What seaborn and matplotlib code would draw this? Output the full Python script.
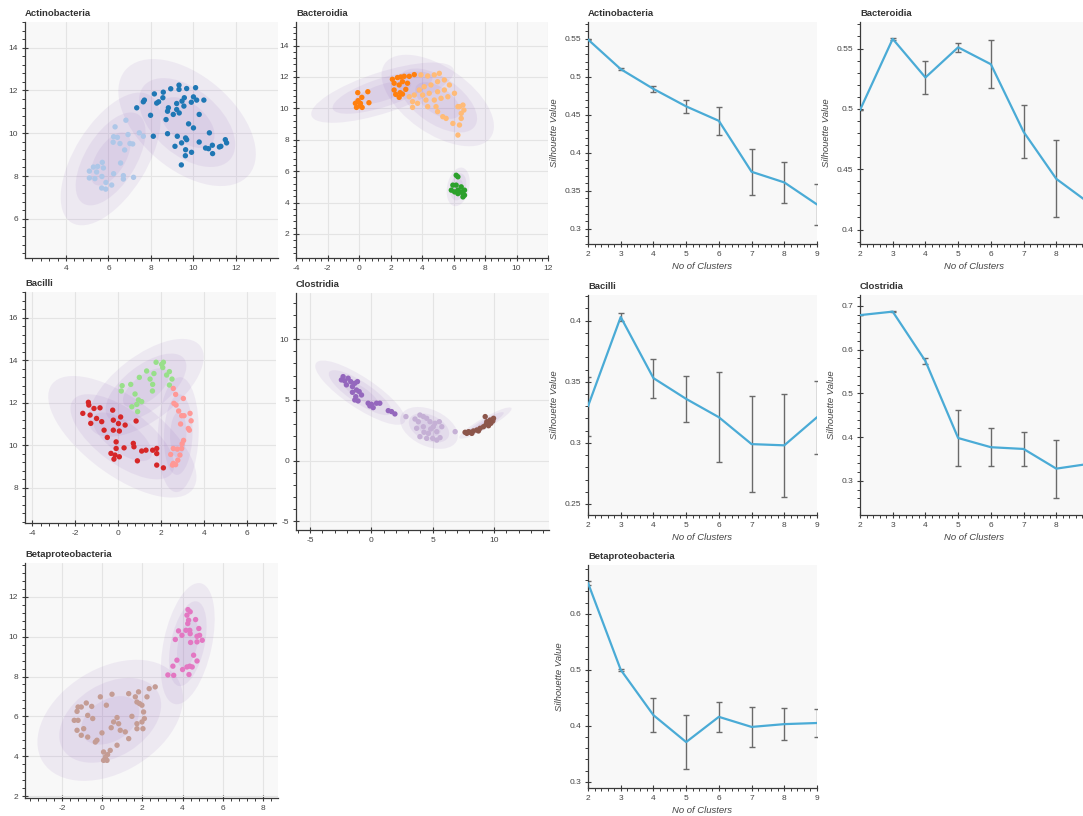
import numpy as np
import pandas as pd
import matplotlib
matplotlib.use("Agg")
import matplotlib.pyplot as plt
from matplotlib.patches import Ellipse
from matplotlib.ticker import MultipleLocator, AutoMinorLocator, FuncFormatter
import seaborn as sns

sns.set_theme(style="white")
plt.rcParams["font.family"] = ["Liberation Sans", "DejaVu Sans"]
plt.rcParams["axes.unicode_minus"] = False

# ---------------------------------------------------------------- cluster scatter data
actino_a_x = [7.33, 7.64, 7.69, 8.16, 8.58, 8.93, 9.32, 9.32, 9.68, 10.10, 7.98, 8.27, 8.36, 8.56,
              8.78, 9.05, 9.21, 9.21, 9.46, 9.57, 9.55, 9.90, 10.0, 10.15, 10.49, 10.27, 9.77, 10.0,
              8.71, 8.11, 8.78, 9.24, 9.44, 9.63, 9.68, 9.13, 9.91, 9.63, 9.62, 9.43, 10.27, 10.75,
              10.57, 10.71, 10.89, 11.22, 11.29, 10.90, 11.50, 11.56, 9.33, 8.82]
actino_a_y = [11.19, 11.47, 11.55, 11.84, 11.92, 12.08, 12.25, 12.05, 12.09, 12.13, 10.84, 11.41, 11.47, 11.66,
              11.03, 10.88, 11.11, 11.39, 11.50, 11.66, 11.27, 11.45, 11.70, 11.55, 11.55, 10.88, 10.44, 10.25,
              10.64, 9.86, 9.98, 9.86, 9.55, 9.78, 9.70, 9.39, 9.11, 9.23, 8.95, 8.52, 9.59, 10.02,
              9.31, 9.28, 9.44, 9.36, 9.39, 9.05, 9.70, 9.55, 10.95, 11.19]
actino_b_x = [6.31, 6.42, 6.24, 6.54, 6.22, 6.82, 6.92, 7.01, 7.14, 6.76, 7.45, 7.64, 6.57, 6.24, 6.70,
              6.70, 7.18, 6.15, 5.88, 5.68, 5.87, 5.69, 5.76, 5.71, 5.44, 5.29, 5.10, 5.10, 5.36, 5.49]
actino_b_y = [10.30, 9.81, 9.84, 9.52, 9.58, 10.61, 9.94, 9.52, 9.50, 9.22, 10.02, 9.86, 8.61, 8.11, 8.02,
              7.86, 7.94, 7.58, 7.70, 7.44, 7.39, 7.98, 8.38, 8.64, 8.19, 8.42, 8.23, 7.91, 7.88, 8.45]

bactero_a_x = [-0.08, 0.18, 0.56, -0.06, -0.23, 0.09, -0.16, 0.09, 0.20, 0.63, 2.12, 2.44, 2.65, 2.87,
               3.19, 3.51, 2.23, 2.55, 2.76, 3.08, 2.23, 2.33, 2.61, 2.97, 2.55, 2.76]
bactero_a_y = [11.0, 10.70, 11.06, 10.49, 10.32, 10.32, 10.06, 10.15, 10.06, 10.36, 11.85, 11.96, 12.0, 12.04,
               12.04, 12.15, 11.60, 11.49, 11.70, 11.60, 11.17, 10.89, 11.0, 11.21, 10.70, 10.91]
bactero_b_x = [3.93, 4.36, 4.78, 5.10, 5.42, 5.74, 4.99, 4.57, 4.14, 3.83, 3.51, 3.19, 4.04, 4.46, 4.99,
               5.42, 6.06, 3.40, 3.72, 4.25, 4.78, 5.21, 4.36, 4.89, 3.40, 4.99, 5.32, 5.53, 5.96, 6.38,
               6.28, 6.38, 6.60, 6.66, 6.49, 6.28, 6.49, 5.64]
bactero_b_y = [12.13, 12.06, 12.13, 12.23, 11.81, 11.49, 11.70, 11.49, 11.38, 11.17, 10.85, 10.74, 10.85, 10.96, 11.06,
               11.17, 10.96, 10.43, 10.32, 10.53, 10.53, 10.64, 10.11, 10.11, 10.06, 9.79, 9.47, 9.36, 9.04, 8.94,
               8.30, 10.11, 10.21, 9.89, 9.68, 10.11, 9.36, 10.74]
bactero_c_x = [6.17, 6.28, 5.96, 6.17, 5.86, 6.07, 6.28, 6.49, 6.60, 6.70, 6.49, 6.28, 6.70, 6.60]
bactero_c_y = [5.74, 5.64, 5.11, 5.11, 4.79, 4.68, 4.79, 5.0, 4.57, 4.47, 4.68, 4.57, 4.79, 4.36]

bacilli_a_x = [-1.64, -1.38, -1.36, -1.30, -1.27, -1.12, -1.0, -0.84, -0.76, -0.65, -0.50, -0.25, -0.22, -0.22,
               -0.09, 0.02, 0.06, 0.12, 0.33, -0.09, -0.14, -0.33, -0.19, 0.06, 0.28, 0.71, 0.74, 0.84,
               0.90, 1.10, 1.30, 1.61, 1.80, 1.80, 1.80, 2.11]
bacilli_a_y = [11.50, 12.02, 11.89, 11.42, 11.03, 11.73, 11.26, 11.76, 11.11, 10.71, 10.37, 11.65, 11.18, 10.71,
               10.16, 11.02, 10.67, 11.33, 10.95, 9.85, 9.54, 9.62, 9.35, 9.46, 9.88, 10.09, 9.93, 11.14,
               9.27, 9.73, 9.77, 9.77, 9.85, 9.61, 9.07, 8.94]
bacilli_b_x = [0.19, 0.15, 0.59, 0.79, 0.99, 0.95, 0.87, 0.64, 0.91, 1.10, 1.33, 1.49, 1.61, 1.67, 1.60,
               1.77, 2.03, 2.11, 2.08, 2.26, 2.39, 2.51, 2.39]
bacilli_b_y = [12.80, 12.55, 12.86, 12.41, 13.19, 12.13, 11.92, 11.81, 11.58, 12.05, 13.49, 13.11, 12.86, 13.37, 12.55,
               13.90, 13.80, 13.90, 13.65, 13.30, 13.46, 13.11, 12.83]
bacilli_c_x = [2.57, 2.68, 2.60, 2.70, 3.04, 2.82, 2.96, 3.07, 3.35, 3.40, 3.27, 3.32, 2.91, 3.05, 2.57,
               2.76, 2.96, 2.45, 2.88, 2.57, 2.68, 2.53, 2.78, 2.98]
bacilli_c_y = [12.67, 12.39, 11.97, 11.89, 12.20, 11.61, 11.39, 11.39, 11.50, 11.15, 10.79, 10.71, 11.0, 10.23, 9.85,
               9.82, 9.85, 9.57, 9.54, 9.15, 9.09, 9.07, 9.30, 10.07]

clost_a_x = [-2.30, -2.44, -2.17, -1.89, -1.68, -2.03, -1.54, -1.35, -1.13, -1.21, -0.99, -0.80, -1.54, -1.35,
             -1.08, -1.27, -0.26, -0.12, 0.01, 0.15, 0.42, 0.69, 1.38, 1.65, 1.92]
clost_a_y = [6.92, 6.65, 6.57, 6.79, 6.51, 6.24, 6.10, 6.37, 6.51, 5.82, 5.69, 5.41, 5.63, 5.0,
             4.92, 5.27, 4.73, 4.51, 4.64, 4.37, 4.73, 4.73, 4.12, 4.04, 3.85]
clost_b_x = [2.82, 3.56, 3.96, 4.24, 4.51, 4.78, 5.19, 5.54, 5.74, 5.33, 4.84, 4.24, 3.83, 3.96, 4.51,
             5.0, 5.33, 5.60, 4.65, 4.29, 5.05, 6.83, 3.69]
clost_b_y = [3.63, 3.43, 3.76, 3.63, 3.49, 3.21, 3.08, 3.21, 2.80, 2.39, 2.61, 2.80, 3.21, 1.98, 1.84,
             1.84, 1.70, 1.90, 2.25, 2.34, 2.80, 2.39, 2.67]
clost_c_x = [7.64, 7.78, 8.05, 8.32, 8.60, 8.87, 9.14, 9.36, 9.41, 9.55, 9.74, 9.90, 9.96, 9.28, 8.19,
             8.73, 7.92, 9.69]
clost_c_y = [2.34, 2.25, 2.34, 2.45, 2.53, 2.67, 2.80, 3.0, 3.21, 2.88, 3.08, 3.27, 3.49, 3.63, 2.25,
             2.45, 2.39, 3.35]

beta_a_x = [-1.39, -1.20, -1.20, -1.25, -1.04, -0.79, -0.52, -0.72, -0.47, -0.92, -1.25, -1.04, -0.72, -0.34,
            -0.26, -0.09, -0.01, 0.21, 0.49, 0.07, 0.16, 0.07, 0.24, 0.27, 0.40, 0.45, 0.57, 0.74, 0.82,
            0.90, 0.74, 1.15, 1.32, 1.32, 1.48, 1.65, 1.73, 1.81, 1.86, 1.98, 1.73, 1.98, 2.06, 2.10, 2.03,
            1.73, 2.23, 2.34, 2.64]
beta_a_y = [5.80, 5.80, 6.47, 6.25, 6.47, 6.67, 6.50, 6.05, 5.89, 5.38, 5.30, 5.05, 4.96, 4.71,
            4.80, 6.98, 5.17, 6.56, 7.11, 4.21, 3.96, 3.79, 3.79, 4.08, 4.29, 5.43, 5.72, 5.94, 5.63,
            5.30, 4.55, 5.22, 4.88, 7.14, 6.0, 6.98, 6.72, 7.23, 6.64, 6.56, 5.63, 5.72, 6.22, 5.89, 5.38,
            5.38, 6.98, 7.39, 7.48]
beta_b_x = [4.27, 4.38, 4.22, 4.30, 4.65, 4.26, 4.36, 4.17, 3.80, 3.97, 3.64, 4.38, 4.81, 4.72, 4.85,
            4.98, 4.72, 4.40, 4.55, 4.72, 4.36, 4.48, 4.22, 4.00, 3.72, 3.52, 3.27, 3.56, 4.32]
beta_b_y = [11.36, 11.25, 11.08, 10.83, 10.86, 10.66, 10.32, 10.32, 10.29, 10.07, 9.86, 10.15, 10.41, 10.02, 10.07,
            9.82, 9.74, 9.71, 9.07, 8.78, 8.52, 8.48, 8.48, 8.35, 8.82, 8.52, 8.08, 8.06, 8.10]

# mixture-component ellipses: centre x, centre y, full width, full height, angle (deg)
actino_ellipses = [(9.7, 10.5, 7.6, 4.4, -40), (6.1, 8.8, 7.0, 3.4, 58)]
bactero_ellipses = [(1.5, 11.0, 9.5, 2.6, 18), (5.0, 10.5, 8.2, 4.2, -35), (6.3, 5.0, 2.5, 1.4, 78)]
bacilli_ellipses = [(0.2, 10.4, 8.2, 3.6, -37), (1.3, 12.7, 6.4, 3.0, 38), (2.8, 10.5, 5.4, 1.9, 88)]
clost_ellipses = [(-0.9, 5.6, 8.7, 2.5, -34), (4.7, 2.7, 5.0, 3.0, -25), (9.3, 3.1, 4.9, 0.9, 30)]
beta_ellipses = [(0.4, 5.8, 7.9, 5.2, 32), (4.26, 9.65, 6.2, 2.4, 78)]

# ---------------------------------------------------------------- silhouette data
n_clusters = [2, 3, 4, 5, 6, 7, 8, 9]
actino_sil = [0.549, 0.510, 0.484, 0.461, 0.442, 0.375, 0.361, 0.332]
actino_err = [0.001, 0.001, 0.004, 0.009, 0.018, 0.030, 0.027, 0.027]
bactero_sil = [0.499, 0.558, 0.526, 0.551, 0.537, 0.481, 0.442, 0.422]
bactero_err = [0.0, 0.001, 0.014, 0.004, 0.020, 0.022, 0.032, 0.030]
bacilli_sil = [0.330, 0.403, 0.353, 0.336, 0.321, 0.299, 0.298, 0.321]
bacilli_err = [0.024, 0.003, 0.016, 0.019, 0.037, 0.039, 0.042, 0.030]
clost_sil = [0.679, 0.687, 0.574, 0.398, 0.377, 0.373, 0.328, 0.339]
clost_err = [0.0, 0.001, 0.007, 0.064, 0.043, 0.038, 0.066, 0.030]
beta_sil = [0.655, 0.500, 0.419, 0.371, 0.416, 0.398, 0.403, 0.405]
beta_err = [0.003, 0.002, 0.030, 0.048, 0.027, 0.035, 0.028, 0.025]

# ---------------------------------------------------------------- styling
W, H = 1083, 816
BG = "#f8f8f8"
AXIS_C = "#3a3a3a"
TEXT_C = "#444444"
LINE_C = "#4aabd6"
ELL_C = "#9467bd"
tab20 = sns.color_palette("tab20", 20)

fig = plt.figure(figsize=(W / 100, H / 100), dpi=100)
fig.patch.set_facecolor("white")


def make_axes(left, right, top, bottom):
    return fig.add_axes([left / W, 1 - bottom / H, (right - left) / W, (bottom - top) / H])


def make_formatter(max_label=None):
    def fmt(v, pos):
        if max_label is not None and v > max_label:
            return ""
        return "%g" % round(v, 4)
    return FuncFormatter(fmt)


def style_axes(ax, title, xmajor, ymajor, grid, x_label_max=None):
    ax.set_facecolor(BG)
    for side in ("top", "right"):
        ax.spines[side].set_visible(False)
    for side in ("left", "bottom"):
        ax.spines[side].set_color(AXIS_C)
        ax.spines[side].set_linewidth(0.9)
    ax.xaxis.set_major_locator(MultipleLocator(xmajor))
    ax.yaxis.set_major_locator(MultipleLocator(ymajor))
    ax.xaxis.set_minor_locator(AutoMinorLocator(5))
    ax.yaxis.set_minor_locator(AutoMinorLocator(5))
    ax.xaxis.set_major_formatter(make_formatter(x_label_max))
    ax.yaxis.set_major_formatter(make_formatter())
    ax.tick_params(which="major", direction="inout", length=5, width=0.8, color=AXIS_C,
                   labelsize=6, labelcolor=TEXT_C, pad=2.5)
    ax.tick_params(which="minor", direction="out", length=2.5, width=0.7, color=AXIS_C)
    ax.tick_params(top=False, right=False, bottom=True, left=True, which="both")
    if grid:
        ax.grid(True, which="major", color="#e4e4e4", linewidth=0.8)
        ax.set_axisbelow(True)
    else:
        ax.grid(False)
    ax.set_title(title, loc="left", fontsize=6.8, fontweight="bold", color="#333333", pad=4)


def cluster_panel(box, title, groups, colors, ellipses, xlim, ylim, xmajor, ymajor):
    ax = make_axes(*box)
    frames = []
    for i, (gx, gy) in enumerate(groups):
        frames.append(pd.DataFrame({"x": gx, "y": gy, "cluster": f"c{i}"}))
    df = pd.concat(frames, ignore_index=True)
    for cx, cy, w, h, ang in ellipses:
        for f in (1.0, 0.7, 0.4):
            ax.add_patch(Ellipse((cx, cy), w * f, h * f, angle=ang, facecolor=ELL_C,
                                 edgecolor="none", alpha=0.1, zorder=1))
    sns.scatterplot(data=df, x="x", y="y", hue="cluster",
                    palette={f"c{i}": c for i, c in enumerate(colors)},
                    s=15, linewidth=0, legend=False, ax=ax, zorder=3)
    ax.set_xlim(*xlim)
    ax.set_ylim(*ylim)
    ax.set_xlabel("")
    ax.set_ylabel("")
    style_axes(ax, title, xmajor, ymajor, grid=True)
    return ax


def silhouette_panel(box, title, sil, err, ylim, ymajor, x_label_max=None):
    ax = make_axes(*box)
    sns.lineplot(x=n_clusters, y=sil, color=LINE_C, linewidth=1.6, ax=ax, zorder=3)
    ax.errorbar(n_clusters, sil, yerr=err, fmt="none", ecolor="#6a6a6a", elinewidth=1.0,
                capsize=2.5, capthick=1.0, zorder=2)
    ax.set_xlim(2, 9)
    ax.set_ylim(*ylim)
    style_axes(ax, title, 1, ymajor, grid=False, x_label_max=x_label_max)
    ax.set_xlabel("No of Clusters", fontsize=6.8, style="italic", color=TEXT_C, labelpad=3)
    ax.set_ylabel("Silhouette Value", fontsize=6.8, style="italic", color=TEXT_C, labelpad=4)
    return ax


# ---------------------------------------------------------------- clustering panels
cluster_panel((25, 278, 22, 258), "Actinobacteria",
              [(actino_a_x, actino_a_y), (actino_b_x, actino_b_y)],
              [tab20[0], tab20[1]], actino_ellipses, (2.07, 13.98), (4.17, 15.2), 2, 2)
cluster_panel((296, 548, 22, 258), "Bacteroidia",
              [(bactero_a_x, bactero_a_y), (bactero_b_x, bactero_b_y), (bactero_c_x, bactero_c_y)],
              [tab20[2], tab20[3], tab20[4]], bactero_ellipses, (-4.0, 12.0), (0.47, 15.5), 2, 2)
cluster_panel((25, 276, 292, 523), "Bacilli",
              [(bacilli_a_x, bacilli_a_y), (bacilli_b_x, bacilli_b_y), (bacilli_c_x, bacilli_c_y)],
              [tab20[6], tab20[5], tab20[7]], bacilli_ellipses, (-4.33, 7.35), (6.35, 17.2), 2, 2)
cluster_panel((296, 549, 293, 530), "Clostridia",
              [(clost_a_x, clost_a_y), (clost_b_x, clost_b_y), (clost_c_x, clost_c_y)],
              [tab20[8], tab20[9], tab20[10]], clost_ellipses, (-6.14, 14.48), (-5.7, 13.8), 5, 5)
cluster_panel((25, 278, 563, 798), "Betaproteobacteria",
              [(beta_a_x, beta_a_y), (beta_b_x, beta_b_y)],
              [tab20[11], tab20[12]], beta_ellipses, (-3.84, 8.75), (1.9, 13.7), 2, 2)

# ---------------------------------------------------------------- silhouette panels
# the right-hand column runs past the figure edge, so its last x label is left out
silhouette_panel((588, 817, 22, 244), "Actinobacteria", actino_sil, actino_err, (0.28, 0.572), 0.05)
silhouette_panel((860, 1089, 22, 244), "Bacteroidia", bactero_sil, bactero_err, (0.388, 0.572), 0.05,
                 x_label_max=8.5)
silhouette_panel((588, 817, 295, 515), "Bacilli", bacilli_sil, bacilli_err, (0.241, 0.421), 0.05)
silhouette_panel((860, 1089, 295, 515), "Clostridia", clost_sil, clost_err, (0.222, 0.725), 0.1,
                 x_label_max=8.5)
silhouette_panel((588, 817, 565, 788), "Betaproteobacteria", beta_sil, beta_err, (0.289, 0.687), 0.1)

fig.savefig("out.png", dpi=100, facecolor="white")
